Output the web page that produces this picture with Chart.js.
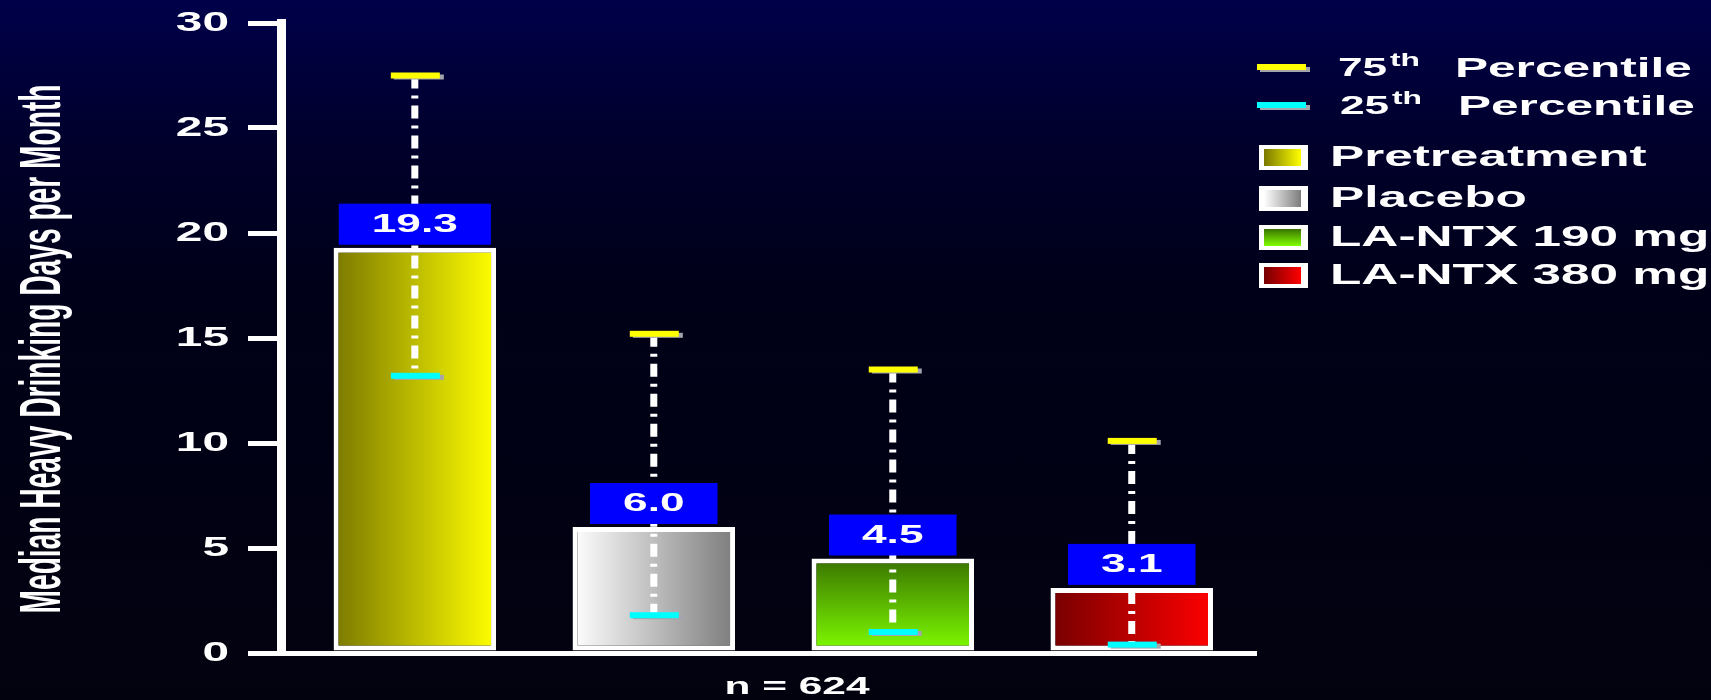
<!DOCTYPE html>
<html>
<head>
<meta charset="utf-8">
<title>Median Heavy Drinking Days per Month</title>
<script src="https://cdn.jsdelivr.net/npm/chart.js@4.4.1/dist/chart.umd.min.js"></script>
<style>
  html, body { margin: 0; padding: 0; }
  body {
    width: 1711px; height: 700px; overflow: hidden;
    background: linear-gradient(to bottom, #00004a 0%, #00002c 20%, #000018 42%, #02020f 100%);
  }
  #wrap { position: relative; width: 1711px; height: 700px; }
</style>
</head>
<body>
<div id="wrap"><canvas id="hdd"></canvas></div>
<script>
// ---- data ----
const groups = ['Pretreatment', 'Placebo', 'LA-NTX 190 mg', 'LA-NTX 380 mg'];
const medians = [19.3, 6.0, 4.5, 3.1];
const pct75 = [27.5, 15.2, 13.5, 10.1];
const pct25 = [13.2, 1.8, 1.0, 0.4];
const yTicks = [0, 5, 10, 15, 20, 25, 30];
const pctNames = [['75', 'th', 'Percentile'], ['25', 'th', 'Percentile']];
const yTitle = 'Median Heavy Drinking Days per Month';
const nNote = 'n = 624';

// ---- look ----
const FONT = '"Liberation Sans", Arial, Helvetica, sans-serif';
const SX = 1.77;          // all text is drawn stretched sideways
const BAR_PCT = 0.68;
const fills = [           // [from, to, direction]
  ['#7a7800', '#ffff00', 'h'],
  ['#ffffff', '#7c7c7c', 'h'],
  ['#3a7400', '#80ff00', 'v'],
  ['#760000', '#ff0000', 'h']
];
const capColors = ['#ffff00', '#00ffff'];

function wideText(ctx, txt, x, y, size, align, weight) {
  ctx.save();
  ctx.font = (weight || 'bold') + ' ' + size + 'px ' + FONT;
  const w = ctx.measureText(txt).width * SX;
  const x0 = align === 'right' ? x - w : align === 'center' ? x - w / 2 : x;
  ctx.translate(x0, y);
  ctx.scale(SX, 1);
  ctx.textAlign = 'left';
  ctx.textBaseline = 'middle';
  ctx.fillStyle = '#ffffff';
  ctx.fillText(txt, 0, 0);
  ctx.restore();
  return w;
}

function makeFill(ctx, i, left, top, right, bottom) {
  const f = fills[i];
  const g = f[2] === 'v'
    ? ctx.createLinearGradient(0, top, 0, bottom)
    : ctx.createLinearGradient(left, 0, right, 0);
  g.addColorStop(0, f[0]);
  g.addColorStop(1, f[1]);
  return g;
}

function drawCap(ctx, cx, y, color) {
  ctx.fillStyle = '#a4a4ac';
  ctx.fillRect(cx - 21, y - 1, 50, 5);
  ctx.fillStyle = color;
  ctx.fillRect(cx - 24, y - 3, 49, 6);
}

// y tick labels, y title and the n note
const axisText = {
  id: 'axisText',
  afterDraw(chart) {
    const ctx = chart.ctx, ys = chart.scales.y;
    yTicks.forEach(v => wideText(ctx, String(v), 229, ys.getPixelForValue(v) + 1, 27, 'right'));

    // narrow, tall title running up the left side
    ctx.save();
    ctx.font = 'bold 32px ' + FONT;
    const squeeze = 529 / ctx.measureText(yTitle).width;
    ctx.translate(60, 349);
    ctx.scale(SX, 1);
    ctx.rotate(-Math.PI / 2);
    ctx.scale(squeeze, 1);
    ctx.textAlign = 'center';
    ctx.textBaseline = 'alphabetic';
    ctx.fillStyle = '#ffffff';
    ctx.fillText(yTitle, 0, 0);
    ctx.restore();

    wideText(ctx, nNote, 797, 687, 24, 'center');
  }
};

// percentile whiskers and the blue value boxes
const whiskers = {
  id: 'whiskers',
  afterDatasetsDraw(chart) {
    const ctx = chart.ctx, ys = chart.scales.y;
    const meta = chart.getDatasetMeta(0);
    meta.data.forEach((bar, i) => {
      const cx = bar.x;
      const yTop = ys.getPixelForValue(pct75[i]);
      const yBot = ys.getPixelForValue(pct25[i]);
      ctx.save();
      ctx.strokeStyle = '#ffffff';
      ctx.lineWidth = 7;
      ctx.setLineDash([13, 7, 3, 7]);
      ctx.beginPath();
      ctx.moveTo(cx, yTop);
      ctx.lineTo(cx, yBot);
      ctx.stroke();
      ctx.restore();
      drawCap(ctx, cx, yTop, capColors[0]);
      drawCap(ctx, cx, yBot, capColors[1]);
    });
    meta.data.forEach((bar, i) => {
      const label = medians[i].toFixed(1);
      const bottom = bar.y - 3;
      ctx.save();
      ctx.font = 'bold 25px ' + FONT;
      const w = ctx.measureText(label).width * SX + 66;
      ctx.fillStyle = '#0000ff';
      ctx.fillRect(bar.x - w / 2, bottom - 41, w, 41);
      ctx.restore();
      wideText(ctx, label, bar.x, bottom - 19.5, 25, 'center');
    });
  }
};

// legend on the right
const sideLegend = {
  id: 'sideLegend',
  afterDraw(chart) {
    const ctx = chart.ctx;
    const pctY = [68, 106];
    pctNames.forEach((p, k) => {
      const y = pctY[k];
      ctx.fillStyle = '#a4a4ac';
      ctx.fillRect(1260, y - 1, 50, 5);
      ctx.fillStyle = capColors[k];
      ctx.fillRect(1257, y - 4, 49, 6);
      wideText(ctx, p[0], 1338 + k * 2, y + 1, 25, 'left');
      wideText(ctx, p[1], 1390 + k * 2, y - 7, 18, 'left');
      wideText(ctx, p[2], 1455 + k * 3, y + 1, 28, 'left');
    });
    const rowY = [157, 198, 237, 275];
    groups.forEach((g, i) => {
      const y = rowY[i];
      ctx.fillStyle = '#ffffff';
      ctx.fillRect(1259, y - 12, 49, 25);
      ctx.fillStyle = makeFill(ctx, i, 1264, y - 8, 1301, y + 9);
      ctx.fillRect(1264, y - 8, 37, 17);
      wideText(ctx, g, 1330, y + 1, 29, 'left');
    });
  }
};

const canvas = document.getElementById('hdd');
new Chart(canvas, {
  type: 'bar',
  data: {
    datasets: [{
      label: 'Median',
      data: medians.map((v, i) => ({ x: i, y: v })),
      backgroundColor: c => {
        const chart = c.chart, xs = chart.scales.x, ys = chart.scales.y;
        const i = c.dataIndex || 0;
        if (!xs || !ys || !chart.chartArea) return fills[i][1];
        const cx = xs.getPixelForValue(i);
        const hw = (xs.getPixelForValue(1) - xs.getPixelForValue(0)) * BAR_PCT / 2;
        return makeFill(chart.ctx, i, cx - hw, ys.getPixelForValue(medians[i]), cx + hw, ys.getPixelForValue(0));
      },
      borderColor: '#ffffff',
      borderWidth: 5,
      borderSkipped: false,
      barPercentage: BAR_PCT,
      categoryPercentage: 1
    }]
  },
  options: {
    responsive: true,
    maintainAspectRatio: false,
    animation: false,
    devicePixelRatio: 1,
    layout: { padding: { left: 248, right: 455, top: 23, bottom: 47 } },
    plugins: { legend: { display: false }, tooltip: { enabled: false } },
    scales: {
      x: {
        type: 'linear', min: -0.56, max: 3.52, offset: false,
        afterBuildTicks: s => { s.ticks = groups.map((g, i) => ({ value: i })); },
        grid: { display: false, drawTicks: false },
        border: { display: true, color: '#ffffff', width: 5 },
        ticks: { display: false }
      },
      y: {
        min: 0, max: 30,
        afterBuildTicks: s => { s.ticks = yTicks.map(v => ({ value: v })); },
        grid: { drawOnChartArea: false, drawTicks: true, tickLength: 33, color: '#ffffff', lineWidth: 5 },
        border: { display: true, color: '#ffffff', width: 9 },
        ticks: { display: false }
      }
    }
  },
  plugins: [whiskers, axisText, sideLegend]
});
</script>
</body>
</html>
